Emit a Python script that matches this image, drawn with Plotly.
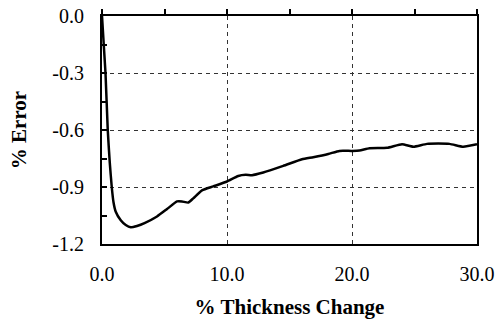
import plotly.graph_objects as go

thickness_change = [0, 0.28, 0.46, 0.62, 0.78, 0.92, 1.1, 1.5, 1.9, 2.3, 2.8, 3.4, 4.4, 5.2,
                    6.0, 6.4, 6.9, 7.3, 8.0, 8.9, 10.0, 10.9, 11.5, 12.0, 12.9, 14.5, 16.0,
                    16.9, 18.1, 19.0, 20.0, 20.6, 21.4, 22.8, 24.0, 24.9, 26.0, 27.8, 28.9, 30.0]
error_pct = [0, -0.30, -0.60, -0.77, -0.90, -0.98, -1.03, -1.075, -1.10, -1.112, -1.105, -1.09,
             -1.055, -1.016, -0.976, -0.976, -0.982, -0.96, -0.918, -0.897, -0.871, -0.842,
             -0.836, -0.838, -0.824, -0.789, -0.754, -0.743, -0.726, -0.71, -0.71, -0.708,
             -0.696, -0.694, -0.675, -0.688, -0.673, -0.673, -0.688, -0.675]

x_ticks = [0, 10, 20, 30]
x_tick_labels = ["0.0", "10.0", "20.0", "30.0"]
top_ticks = [0, 5, 10, 15, 20, 25, 30]
y_ticks = [0, -0.3, -0.6, -0.9, -1.2]
y_tick_labels = ["0.0", "-0.3", "-0.6", "-0.9", "-1.2"]
y_minor_ticks = [-0.15, -0.45, -0.75, -1.05]

FONT = "Liberation Serif, Times New Roman, serif"

fig = go.Figure()
fig.add_trace(go.Scatter(
    x=thickness_change, y=error_pct, mode="lines",
    line=dict(color="black", width=2.5, shape="spline", smoothing=0.5),
    showlegend=False, hoverinfo="skip"))
# invisible copy bound to the top axis so that its tick marks are drawn
fig.add_trace(go.Scatter(
    x=thickness_change, y=error_pct, mode="lines", xaxis="x2", yaxis="y",
    line=dict(color="rgba(0,0,0,0)", width=0),
    showlegend=False, hoverinfo="skip"))

fig.update_layout(
    width=497, height=320,
    margin=dict(l=101.5, r=20, t=15.7, b=75.7),
    paper_bgcolor="white", plot_bgcolor="white",
    font=dict(family=FONT, size=20, color="black"),
    xaxis=dict(
        range=[0, 30], tickvals=x_ticks, ticktext=x_tick_labels, automargin=False,
        ticks="", showline=True, linecolor="black", linewidth=2, mirror=True,
        showgrid=True, gridcolor="#333333", gridwidth=1, griddash="4px,4px",
        zeroline=False, ticklabelstandoff=11, ticklabeloverflow="allow",
        title=dict(text="<b>% Thickness Change</b>", font=dict(size=21), standoff=15),
    ),
    xaxis2=dict(
        range=[0, 30], overlaying="x", anchor="y", side="top", tickvals=top_ticks,
        ticks="outside", ticklen=6, tickwidth=2, tickcolor="black", automargin=False,
        showticklabels=False, showgrid=False, zeroline=False, showline=False,
    ),
    yaxis=dict(
        range=[-1.2, 0], tickvals=y_ticks, ticktext=y_tick_labels, automargin=False,
        ticks="inside", ticklen=5, tickwidth=1.5, tickcolor="black",
        minor=dict(tickvals=y_minor_ticks, ticks="inside", ticklen=5,
                   tickwidth=1.5, tickcolor="black"),
        showline=True, linecolor="black", linewidth=2, mirror=True,
        showgrid=True, gridcolor="#333333", gridwidth=1, griddash="4px,4px",
        zeroline=False, ticklabelstandoff=12, ticklabeloverflow="allow",
        title=dict(text="<b>% Error</b>", font=dict(size=21), standoff=20),
    ),
)

fig.write_html("out.html", config={"displayModeBar": False},
               post_script="document.body.style.margin='0';document.body.style.overflow='hidden';")
